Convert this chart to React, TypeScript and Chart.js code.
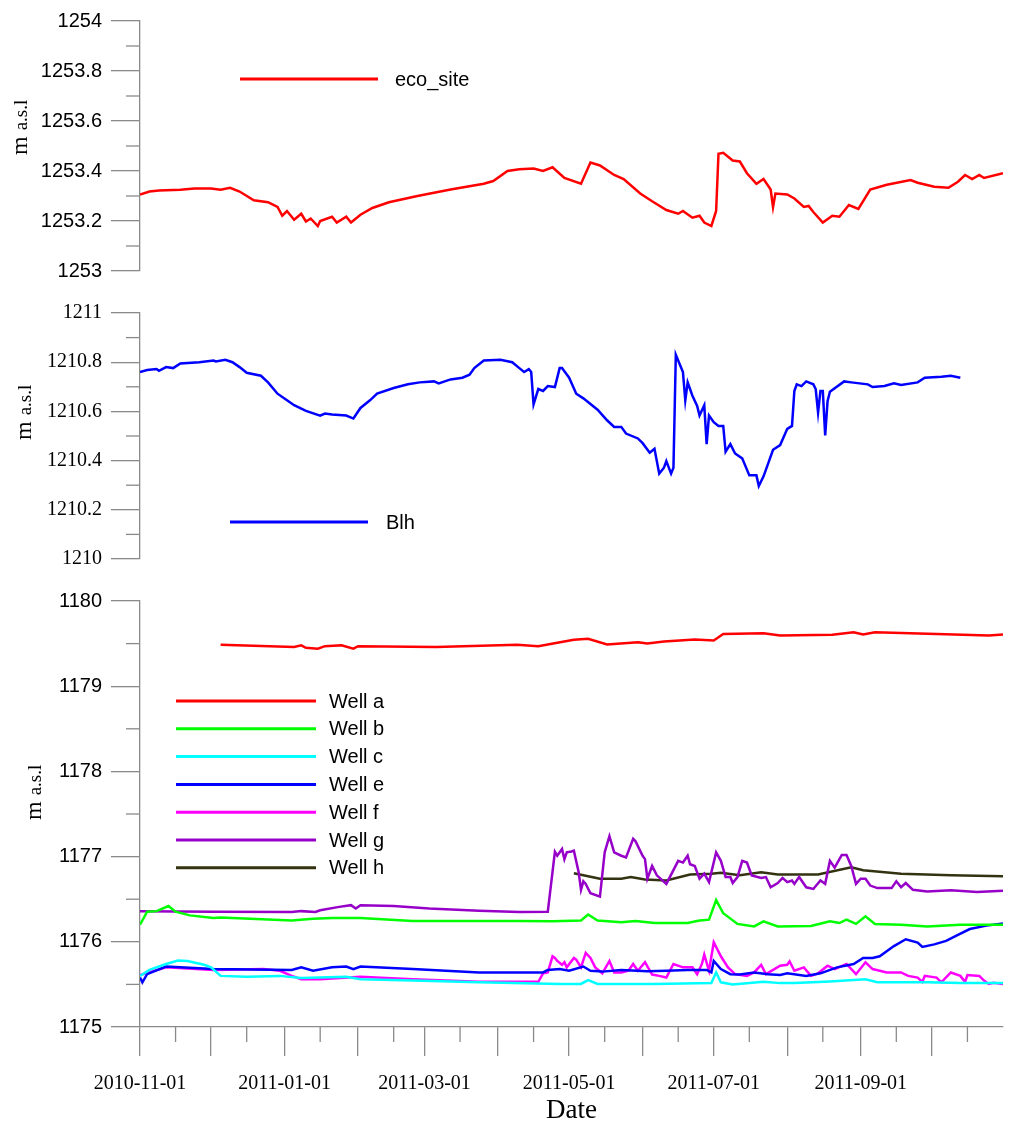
import { useEffect, useRef } from 'react';
import { Chart, registerables } from 'chart.js';

Chart.register(...registerables);

// x values are day offsets counted from 2010-11-01 (day 0)
const START_DATE = '2010-11-01';
const END_DAY = 364;

const monthStarts = [
  '2010-11-01', '2010-12-01', '2011-01-01', '2011-02-01', '2011-03-01', '2011-04-01',
  '2011-05-01', '2011-06-01', '2011-07-01', '2011-08-01', '2011-09-01', '2011-10-01',
];
const labelledMonths = ['2010-11-01', '2011-01-01', '2011-03-01', '2011-05-01', '2011-07-01', '2011-09-01'];
const midMonths = [
  '2010-11-16', '2010-12-16', '2011-01-16', '2011-02-16', '2011-03-16', '2011-04-16',
  '2011-05-16', '2011-06-16', '2011-07-16', '2011-08-16', '2011-09-16', '2011-10-16',
];

// eco_site
const ecoDays = [0, 4, 8, 17, 23, 30, 34, 38, 42, 48, 54, 58, 60, 62, 65, 68, 70, 72, 75, 76, 81, 83, 87, 89, 93, 98, 105, 117, 131, 145, 149, 155, 160, 166, 170, 174, 179, 186, 190, 194, 200, 204, 211, 216, 222, 227, 229, 233, 236, 238, 241, 243, 244, 246, 250, 253, 256, 260, 263, 266, 267, 268, 273, 276, 280, 282, 284, 288, 292, 295, 299, 303, 308, 315, 325, 328, 335, 341, 345, 348, 351, 354, 356, 364];
const ecoLevel = [1253.306, 1253.318, 1253.322, 1253.325, 1253.33, 1253.33, 1253.325, 1253.333, 1253.318, 1253.283, 1253.275, 1253.256, 1253.221, 1253.24, 1253.205, 1253.229, 1253.198, 1253.21, 1253.18, 1253.2, 1253.217, 1253.194, 1253.217, 1253.194, 1253.225, 1253.252, 1253.275, 1253.3, 1253.326, 1253.349, 1253.36, 1253.4, 1253.407, 1253.41, 1253.4, 1253.415, 1253.372, 1253.349, 1253.434, 1253.422, 1253.384, 1253.368, 1253.31, 1253.279, 1253.244, 1253.229, 1253.24, 1253.213, 1253.221, 1253.194, 1253.18, 1253.24, 1253.469, 1253.473, 1253.442, 1253.438, 1253.391, 1253.349, 1253.368, 1253.326, 1253.256, 1253.31, 1253.306, 1253.29, 1253.256, 1253.26, 1253.236, 1253.194, 1253.221, 1253.217, 1253.264, 1253.248, 1253.326, 1253.345, 1253.364, 1253.353, 1253.337, 1253.333, 1253.357, 1253.384, 1253.368, 1253.384, 1253.372, 1253.391];

// Blh
const blhDays = [0, 3, 7, 8, 11, 14, 17, 25, 31, 32, 36, 39, 42, 45, 51, 54, 58, 62, 65, 70, 76, 78, 81, 87, 90, 93, 97, 100, 107, 113, 118, 124, 126, 131, 136, 139, 141, 145, 152, 157, 160, 162, 164, 165, 166, 168, 170, 172, 175, 177, 178, 181, 184, 187, 193, 197, 200, 203, 205, 210, 212, 215, 217, 219, 221, 222, 224, 225, 226, 229, 230, 231, 233, 235, 236, 238, 239, 240, 242, 244, 246, 247, 249, 251, 254, 257, 260, 261, 263, 265, 267, 270, 273, 275, 276, 277, 279, 281, 284, 285, 286, 287, 288, 289, 290, 291, 297, 300, 307, 309, 314, 318, 321, 328, 331, 338, 342, 346];
const blhLevel = [1210.76, 1210.768, 1210.772, 1210.765, 1210.78, 1210.776, 1210.795, 1210.8, 1210.807, 1210.803, 1210.81, 1210.8, 1210.78, 1210.757, 1210.745, 1210.718, 1210.672, 1210.645, 1210.625, 1210.602, 1210.583, 1210.591, 1210.587, 1210.583, 1210.571, 1210.614, 1210.645, 1210.672, 1210.695, 1210.71, 1210.718, 1210.722, 1210.714, 1210.73, 1210.737, 1210.749, 1210.776, 1210.807, 1210.81, 1210.8, 1210.776, 1210.76, 1210.772, 1210.76, 1210.629, 1210.691, 1210.683, 1210.703, 1210.699, 1210.776, 1210.776, 1210.737, 1210.672, 1210.653, 1210.607, 1210.564, 1210.537, 1210.537, 1210.51, 1210.49, 1210.471, 1210.432, 1210.448, 1210.347, 1210.371, 1210.398, 1210.347, 1210.371, 1210.83, 1210.76, 1210.645, 1210.718, 1210.664, 1210.622, 1210.583, 1210.625, 1210.467, 1210.583, 1210.556, 1210.541, 1210.541, 1210.436, 1210.467, 1210.429, 1210.409, 1210.34, 1210.34, 1210.297, 1210.336, 1210.39, 1210.444, 1210.463, 1210.529, 1210.541, 1210.683, 1210.71, 1210.703, 1210.722, 1210.71, 1210.691, 1210.595, 1210.683, 1210.683, 1210.502, 1210.641, 1210.68, 1210.722, 1210.718, 1210.71, 1210.699, 1210.703, 1210.714, 1210.707, 1210.718, 1210.737, 1210.741, 1210.745, 1210.737];

// wells
const wellADays = [34, 65, 68, 70, 75, 78, 85, 90, 92, 125, 159, 168, 176, 183, 189, 197, 210, 214, 221, 234, 242, 246, 263, 270, 292, 301, 305, 310, 336, 358, 364];
const wellALevel = [1179.487, 1179.46, 1179.48, 1179.45, 1179.44, 1179.47, 1179.48, 1179.44, 1179.47, 1179.46, 1179.487, 1179.47, 1179.51, 1179.545, 1179.556, 1179.49, 1179.517, 1179.5, 1179.525, 1179.548, 1179.537, 1179.614, 1179.622, 1179.595, 1179.603, 1179.633, 1179.607, 1179.633, 1179.614, 1179.595, 1179.607];

const wellBDays = [0, 3, 7, 12, 15, 21, 31, 34, 64, 73, 81, 93, 115, 143, 160, 174, 186, 189, 193, 203, 209, 217, 231, 236, 240, 243, 246, 252, 259, 263, 269, 283, 291, 295, 298, 302, 306, 310, 321, 332, 346, 364];
const wellBLevel = [1176.2, 1176.354, 1176.36, 1176.42, 1176.354, 1176.31, 1176.28, 1176.285, 1176.25, 1176.27, 1176.28, 1176.28, 1176.245, 1176.245, 1176.245, 1176.24, 1176.25, 1176.32, 1176.25, 1176.23, 1176.245, 1176.22, 1176.22, 1176.25, 1176.26, 1176.49, 1176.335, 1176.21, 1176.18, 1176.24, 1176.18, 1176.185, 1176.24, 1176.22, 1176.26, 1176.21, 1176.3, 1176.21, 1176.2, 1176.18, 1176.2, 1176.2];

const wellCDays = [0, 4, 11, 16, 20, 27, 30, 34, 45, 59, 68, 87, 93, 115, 143, 177, 186, 189, 193, 217, 241, 243, 245, 250, 263, 270, 276, 291, 306, 311, 332, 346, 364];
const wellCLevel = [1175.6, 1175.67, 1175.74, 1175.78, 1175.775, 1175.73, 1175.7, 1175.6, 1175.59, 1175.6, 1175.575, 1175.59, 1175.56, 1175.545, 1175.525, 1175.505, 1175.505, 1175.55, 1175.505, 1175.505, 1175.515, 1175.64, 1175.525, 1175.5, 1175.53, 1175.515, 1175.515, 1175.535, 1175.56, 1175.525, 1175.525, 1175.515, 1175.515];

const wellEDays = [0, 1, 3, 11, 31, 64, 68, 73, 81, 87, 90, 93, 115, 143, 170, 172, 177, 181, 187, 190, 195, 203, 214, 222, 231, 239, 241, 242, 245, 249, 253, 259, 265, 270, 273, 281, 287, 294, 301, 305, 309, 312, 318, 323, 328, 330, 335, 340, 345, 350, 357, 364];
const wellELevel = [1175.58, 1175.525, 1175.62, 1175.71, 1175.68, 1175.67, 1175.7, 1175.66, 1175.7, 1175.71, 1175.68, 1175.71, 1175.68, 1175.64, 1175.64, 1175.67, 1175.68, 1175.66, 1175.71, 1175.66, 1175.65, 1175.67, 1175.655, 1175.66, 1175.67, 1175.67, 1175.64, 1175.775, 1175.68, 1175.62, 1175.615, 1175.64, 1175.62, 1175.61, 1175.63, 1175.6, 1175.63, 1175.7, 1175.74, 1175.81, 1175.81, 1175.83, 1175.95, 1176.03, 1175.99, 1175.94, 1175.97, 1176.01, 1176.08, 1176.15, 1176.19, 1176.215];

const wellFDays = [0, 11, 31, 52, 59, 64, 68, 76, 93, 115, 143, 168, 170, 172, 174, 175, 176, 178, 179, 180, 183, 184, 186, 188, 190, 192, 195, 198, 200, 203, 206, 208, 210, 213, 216, 219, 222, 225, 229, 233, 235, 237, 238, 240, 242, 245, 248, 251, 256, 259, 262, 264, 270, 273, 274, 276, 280, 283, 286, 290, 293, 298, 302, 306, 309, 312, 315, 319, 321, 324, 328, 330, 331, 336, 338, 342, 346, 348, 349, 354, 356, 358, 360, 364];
const wellFLevel = [1175.61, 1175.7, 1175.67, 1175.68, 1175.66, 1175.6, 1175.56, 1175.56, 1175.59, 1175.56, 1175.53, 1175.53, 1175.63, 1175.64, 1175.83, 1175.81, 1175.775, 1175.73, 1175.76, 1175.7, 1175.81, 1175.79, 1175.7, 1175.87, 1175.81, 1175.7, 1175.63, 1175.775, 1175.64, 1175.64, 1175.66, 1175.74, 1175.66, 1175.76, 1175.615, 1175.6, 1175.58, 1175.74, 1175.7, 1175.7, 1175.62, 1175.74, 1175.85, 1175.66, 1175.995, 1175.83, 1175.7, 1175.62, 1175.6, 1175.64, 1175.73, 1175.62, 1175.72, 1175.73, 1175.77, 1175.66, 1175.7, 1175.6, 1175.63, 1175.72, 1175.68, 1175.74, 1175.62, 1175.76, 1175.68, 1175.66, 1175.64, 1175.64, 1175.64, 1175.6, 1175.58, 1175.53, 1175.6, 1175.58, 1175.525, 1175.64, 1175.6, 1175.53, 1175.61, 1175.6, 1175.545, 1175.505, 1175.52, 1175.505];

const wellGDays = [0, 31, 64, 68, 74, 76, 84, 89, 91, 93, 107, 122, 143, 160, 172, 175, 176, 178, 179, 180, 182, 183, 185, 186, 187, 188, 190, 194, 196, 198, 200, 203, 205, 208, 209, 212, 213, 214, 216, 218, 222, 227, 229, 231, 232, 234, 236, 238, 240, 243, 245, 247, 249, 250, 252, 254, 256, 258, 262, 264, 266, 269, 271, 273, 275, 276, 278, 281, 284, 287, 289, 291, 293, 296, 298, 300, 302, 304, 306, 308, 311, 317, 319, 321, 323, 326, 332, 342, 353, 364];
const wellGLevel = [1176.36, 1176.354, 1176.35, 1176.36, 1176.35, 1176.37, 1176.41, 1176.43, 1176.39, 1176.43, 1176.42, 1176.39, 1176.365, 1176.35, 1176.354, 1177.057, 1177.01, 1177.09, 1176.97, 1177.05, 1177.06, 1177.07, 1176.82, 1176.61, 1176.71, 1176.68, 1176.57, 1176.53, 1177.05, 1177.24, 1177.05, 1177.01, 1176.99, 1177.21, 1177.18, 1177.01, 1176.97, 1176.74, 1176.89, 1176.78, 1176.68, 1176.95, 1176.93, 1177.01, 1176.91, 1176.89, 1176.74, 1176.8, 1176.7, 1177.05, 1176.95, 1176.76, 1176.76, 1176.69, 1176.76, 1176.95, 1176.93, 1176.78, 1176.75, 1176.76, 1176.64, 1176.69, 1176.75, 1176.7, 1176.72, 1176.68, 1176.76, 1176.64, 1176.62, 1176.72, 1176.68, 1176.95, 1176.87, 1177.02, 1177.02, 1176.89, 1176.68, 1176.74, 1176.74, 1176.66, 1176.63, 1176.63, 1176.71, 1176.64, 1176.69, 1176.61, 1176.59, 1176.605, 1176.585, 1176.6];

const wellHDays = [183, 194, 203, 207, 213, 222, 232, 241, 245, 253, 262, 269, 286, 300, 305, 321, 342, 364];
const wellHLevel = [1176.805, 1176.74, 1176.74, 1176.76, 1176.73, 1176.72, 1176.79, 1176.8, 1176.81, 1176.78, 1176.815, 1176.79, 1176.79, 1176.875, 1176.84, 1176.8, 1176.78, 1176.77];

// y axis ticks
const ecoTicks = [1253, 1253.2, 1253.4, 1253.6, 1253.8, 1254];
const ecoMinor = [1253.1, 1253.3, 1253.5, 1253.7, 1253.9];
const blhTicks = [1210, 1210.2, 1210.4, 1210.6, 1210.8, 1211];
const blhMinor = [1210.1, 1210.3, 1210.5, 1210.7, 1210.9];
const wellTicks = [1175, 1176, 1177, 1178, 1179, 1180];
const wellMinor = [1175.5, 1176.5, 1177.5, 1178.5, 1179.5];

const AXIS_GREY = '#8a8a8a';
const SANS = '"Liberation Sans", Arial, sans-serif';
const SERIF = '"Liberation Serif", "Times New Roman", serif';

const dayOf = (iso: string) => (Date.parse(iso + 'T00:00:00Z') - Date.parse(START_DATE + 'T00:00:00Z')) / 86400000;
const points = (days: number[], vals: number[]) => days.map((d, i) => ({ x: d, y: vals[i] }));

const minorTicksPlugin = {
  id: 'minorTicks',
  afterDraw(chart: any, _args: any, opts: any) {
    const ctx = chart.ctx;
    ctx.save();
    ctx.strokeStyle = AXIS_GREY;
    ctx.lineWidth = 1.3;
    if (opts.y) {
      const s = chart.scales.y;
      for (const v of opts.y.values) {
        const py = s.getPixelForValue(v);
        ctx.beginPath();
        ctx.moveTo(s.right - opts.y.length, py);
        ctx.lineTo(s.right, py);
        ctx.stroke();
      }
    }
    if (opts.x) {
      const s = chart.scales.x;
      for (const v of opts.x.values) {
        const px = s.getPixelForValue(v);
        ctx.beginPath();
        ctx.moveTo(px, s.top);
        ctx.lineTo(px, s.top + opts.x.length);
        ctx.stroke();
      }
    }
    ctx.restore();
  },
};

const sideLegendPlugin = {
  id: 'sideLegend',
  afterDraw(chart: any, _args: any, opts: any) {
    const ctx = chart.ctx;
    ctx.save();
    ctx.font = `20px ${SANS}`;
    ctx.textBaseline = 'middle';
    ctx.textAlign = 'left';
    chart.data.datasets.forEach((ds: any, i: number) => {
      const y = opts.y + i * opts.gap;
      ctx.strokeStyle = ds.borderColor;
      ctx.lineWidth = 3;
      ctx.beginPath();
      ctx.moveTo(opts.x1, y);
      ctx.lineTo(opts.x2, y);
      ctx.stroke();
      ctx.fillStyle = '#000';
      ctx.fillText(ds.label, opts.textX, y + 1);
    });
    ctx.restore();
  },
};

const yTitlePlugin = {
  id: 'yTitle',
  afterDraw(chart: any, _args: any, opts: any) {
    const ctx = chart.ctx;
    ctx.save();
    ctx.translate(opts.x, opts.y);
    ctx.rotate(-Math.PI / 2);
    ctx.fillStyle = '#000';
    ctx.textBaseline = 'alphabetic';
    ctx.textAlign = 'left';
    ctx.font = `24px ${SERIF}`;
    ctx.fillText('m', 0, 6);
    const w = ctx.measureText('m ').width;
    ctx.font = `19px ${SERIF}`;
    ctx.fillText('a.s.l', w, 6);
    ctx.restore();
  },
};

type Panel = {
  datasets: { label: string; data: { x: number; y: number }[]; color: string }[];
  yTicks: number[];
  yMinor: number[];
  tickFont: string;
  padding: { top: number; bottom: number };
  showX: boolean;
  legend: { x1: number; x2: number; textX: number; y: number; gap: number };
  title: { x: number; y: number };
};

function buildChart(canvas: HTMLCanvasElement, p: Panel) {
  const monthDays = monthStarts.map(dayOf);
  const labelled = new Set(labelledMonths.map(dayOf));
  return new Chart(canvas, {
    type: 'line',
    data: {
      datasets: p.datasets.map((d) => ({
        label: d.label,
        data: d.data,
        borderColor: d.color,
        backgroundColor: d.color,
        borderWidth: 2.5,
        pointRadius: 0,
        tension: 0,
        fill: false,
      })),
    },
    options: {
      responsive: false,
      animation: false,
      events: [],
      layout: { padding: { top: p.padding.top, bottom: p.padding.bottom, left: 0, right: 21 } },
      scales: {
        x: {
          type: 'linear',
          display: p.showX,
          min: 0,
          max: END_DAY,
          afterBuildTicks: (s: any) => {
            s.ticks = monthDays.map((v) => ({ value: v }));
          },
          afterFit: (s: any) => {
            s.height = p.showX ? 104 : 0;
          },
          ticks: {
            autoSkip: false,
            maxRotation: 0,
            padding: 16,
            color: '#000',
            font: { family: SERIF, size: 20 },
            callback: (v: any) => {
              if (!labelled.has(v)) return '';
              const d = new Date(Date.parse(START_DATE + 'T00:00:00Z') + v * 86400000);
              return d.toISOString().slice(0, 10);
            },
          },
          grid: { display: true, drawOnChartArea: false, tickLength: 29, color: AXIS_GREY, lineWidth: 1.3 },
          border: { display: true, color: AXIS_GREY, width: 1.3 },
          title: { display: true, text: 'Date', color: '#000', font: { family: SERIF, size: 27 }, padding: { top: 0, bottom: 4 } },
        },
        y: {
          type: 'linear',
          min: p.yTicks[0],
          max: p.yTicks[p.yTicks.length - 1],
          afterBuildTicks: (s: any) => {
            s.ticks = p.yTicks.map((v) => ({ value: v }));
          },
          afterFit: (s: any) => {
            s.width = 140;
          },
          ticks: {
            padding: 9,
            color: '#000',
            font: { family: p.tickFont, size: 20 },
            callback: (v: any) => String(Number(Number(v).toFixed(1))),
          },
          grid: { display: true, drawOnChartArea: false, tickLength: 29, color: AXIS_GREY, lineWidth: 1.3 },
          border: { display: true, color: AXIS_GREY, width: 1.3 },
        },
      },
      plugins: {
        legend: { display: false },
        tooltip: { enabled: false },
        minorTicks: {
          y: { values: p.yMinor, length: 14 },
          x: p.showX ? { values: midMonths.map(dayOf), length: 15 } : null,
        },
        sideLegend: p.legend,
        yTitle: p.title,
      } as any,
    },
    plugins: [minorTicksPlugin, sideLegendPlugin, yTitlePlugin],
  } as any);
}

export default function App() {
  const topRef = useRef<HTMLCanvasElement>(null);
  const midRef = useRef<HTMLCanvasElement>(null);
  const botRef = useRef<HTMLCanvasElement>(null);

  useEffect(() => {
    if (!topRef.current || !midRef.current || !botRef.current) return;
    Chart.defaults.font.family = SANS;

    const charts = [
      buildChart(topRef.current, {
        datasets: [{ label: 'eco_site', data: points(ecoDays, ecoLevel), color: '#ff0000' }],
        yTicks: ecoTicks,
        yMinor: ecoMinor,
        tickFont: SANS,
        padding: { top: 21, bottom: 13 },
        showX: false,
        legend: { x1: 240, x2: 378, textX: 395, y: 79, gap: 0 },
        title: { x: 21, y: 155 },
      }),
      buildChart(midRef.current, {
        datasets: [{ label: 'Blh', data: points(blhDays, blhLevel), color: '#0000ff' }],
        yTicks: blhTicks,
        yMinor: blhMinor,
        tickFont: SERIF,
        padding: { top: 13, bottom: 16 },
        showX: false,
        legend: { x1: 230, x2: 368, textX: 386, y: 230, gap: 0 },
        title: { x: 25, y: 148 },
      }),
      buildChart(botRef.current, {
        datasets: [
          { label: 'Well a', data: points(wellADays, wellALevel), color: '#ff0000' },
          { label: 'Well b', data: points(wellBDays, wellBLevel), color: '#00ff00' },
          { label: 'Well c', data: points(wellCDays, wellCLevel), color: '#00ffff' },
          { label: 'Well e', data: points(wellEDays, wellELevel), color: '#0000ff' },
          { label: 'Well f', data: points(wellFDays, wellFLevel), color: '#ff00ff' },
          { label: 'Well g', data: points(wellGDays, wellGLevel), color: '#9600c8' },
          { label: 'Well h', data: points(wellHDays, wellHLevel), color: '#333311' },
        ],
        yTicks: wellTicks,
        yMinor: wellMinor,
        tickFont: SANS,
        padding: { top: 15, bottom: 0 },
        showX: true,
        legend: { x1: 176, x2: 316, textX: 329, y: 121, gap: 27.8 },
        title: { x: 35, y: 240 },
      }),
    ];

    return () => {
      charts.forEach((c) => c.destroy());
    };
  }, []);

  return (
    <div style={{ position: 'absolute', left: 0, top: 0, width: 1024, height: 1131, background: '#fff' }}>
      <canvas ref={topRef} width={1024} height={292} style={{ position: 'absolute', left: 0, top: 0 }} />
      <canvas ref={midRef} width={1024} height={288} style={{ position: 'absolute', left: 0, top: 292 }} />
      <canvas ref={botRef} width={1024} height={551} style={{ position: 'absolute', left: 0, top: 580 }} />
    </div>
  );
}
